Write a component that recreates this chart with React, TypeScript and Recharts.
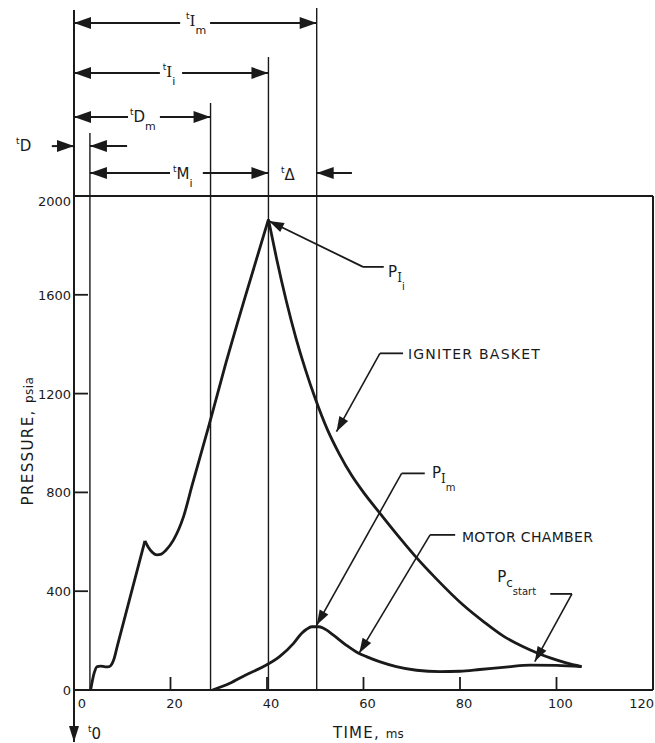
import { LineChart, Line, XAxis, YAxis, ReferenceLine, ReferenceDot } from 'recharts'

// axis ticks
const xTicks = [0, 20, 40, 60, 80, 100, 120]
const yTicks = [0, 400, 800, 1200, 1600, 2000]

// igniter basket pressure (psia vs ms), split at the two sharp peaks
const ignStartT = [3.45, 4.2, 4.8, 5.5, 6.5, 7.3, 8.2, 9, 11.5, 14.7]
const ignStartP = [0, 70, 95, 97, 94, 95, 120, 180, 366, 604]
const ignRiseT = [14.7, 15.4, 16.3, 17.2, 18.1, 19, 20.6, 22.7, 24.5, 28, 31.5, 35.6, 40.3]
const ignRiseP = [604, 578, 556, 547, 550, 565, 607, 702, 830, 1073, 1325, 1600, 1905]
const ignFallT = [40.3, 42, 44, 46, 48, 50, 52.5, 55, 57.5, 60, 63.3, 67, 70.8, 75, 80.6, 85, 89, 93, 96, 99, 102, 105.2]
const ignFallP = [1905, 1745, 1575, 1425, 1295, 1180, 1055, 955, 870, 800, 718, 628, 540, 452, 345, 275, 218, 176, 150, 128, 110, 95]

// motor chamber pressure
const motorT = [28.7, 32.3, 35.6, 39.2, 42.6, 45.5, 47.2, 48.2, 49.3, 50.7, 51.7, 53.7, 56.4, 58.8, 60.6, 63.3, 66.8, 71, 75.8, 80, 84.1, 90, 94.5, 100, 105.2]
const motorP = [0, 27, 61, 94, 135, 189, 230, 246, 256, 256, 250, 223, 182, 151, 135, 115, 95, 80, 74, 76, 83, 94, 101, 100, 95]

// event times: t0, end of delay tD, motor start tDm, igniter peak tIi, motor peak tIm
const [T0, TD, TDM, TII, TIM] = [0, 3.3, 28.3, 40.3, 50.3]

const rows = (t: number[], p: number[]) => t.map((x, i) => ({ t: x, p: p[i] }))
const ignStart = rows(ignStartT, ignStartP)
const ignRise = rows(ignRiseT, ignRiseP)
const ignFall = rows(ignFallT, ignFallP)
const motor = rows(motorT, motorP)

const INK = '#1a1a1a'
const FONT = '"DejaVu Sans", Verdana, sans-serif'
const SERIF = '"DejaVu Serif", serif'

type Head = 'start' | 'end' | 'none'

// line with filled arrow heads, used as ReferenceLine shape
const arrow = (head: Head, width = 2, len = 17, half = 6) => (p: any) => {
  const { x1, y1, x2, y2 } = p
  const a = Math.atan2(y2 - y1, x2 - x1)
  const tri = (x: number, y: number, ang: number) => {
    const bx = x - len * Math.cos(ang), by = y - len * Math.sin(ang)
    const ox = -Math.sin(ang) * half, oy = Math.cos(ang) * half
    return `${x},${y} ${bx + ox},${by + oy} ${bx - ox},${by - oy}`
  }
  return (
    <g>
      <line x1={x1} y1={y1} x2={x2} y2={y2} stroke={INK} strokeWidth={width} />
      {head === 'end' && <polygon points={tri(x2, y2, a)} fill={INK} />}
      {head === 'start' && <polygon points={tri(x1, y1, a + Math.PI)} fill={INK} />}
    </g>
  )
}

const TimeLabel = ({ cx, cy, name, sub }: any) => (
  <text x={cx} y={cy} fill={INK} fontFamily={FONT} fontSize={15}>
    <tspan fontSize={9} dy={-7}>t</tspan>
    <tspan dy={7} fontFamily={name === 'I' ? SERIF : FONT}>{name}</tspan>
    {sub ? <tspan fontSize={11} dy={8}>{sub}</tspan> : null}
  </text>
)

const PLabel = ({ cx, cy, sub, subsub }: any) => (
  <text x={cx} y={cy} fill={INK} fontFamily={FONT} fontSize={15}>
    P
    <tspan fontSize={12} dy={5} fontFamily={sub === 'I' ? SERIF : FONT}>{sub}</tspan>
    <tspan fontSize={10} dy={8}>{subsub}</tspan>
  </text>
)

const Caption = ({ cx, cy, text, len }: any) => (
  <text x={cx} y={cy} fill={INK} fontFamily={FONT} fontSize={14} textLength={len} lengthAdjust="spacing">{text}</text>
)

const BottomTick = (p: any) => {
  const v = p.payload.value
  const last = v === 120
  return (
    <g>
      {v > 0 && !last && <line x1={p.x} x2={p.x} y1={p.y} y2={p.y - 13} stroke={INK} strokeWidth={1.8} />}
      <text x={last ? 654 : p.x + (v === 0 ? 8 : 4)} y={p.y + 18} textAnchor={last ? 'end' : 'middle'}
        fill={INK} fontFamily={FONT} fontSize={13}>{v}</text>
    </g>
  )
}
const TopTick = (p: any) => {
  const v = p.payload.value
  return v > 0 && v < 120 ? <line x1={p.x} x2={p.x} y1={p.y} y2={p.y + 12} stroke={INK} strokeWidth={1.8} /> : <g />
}
const LeftTick = (p: any) => {
  const v = p.payload.value
  return (
    <g>
      {v > 0 && v < 2000 && <line x1={p.x} x2={p.x + 14} y1={p.y} y2={p.y} stroke={INK} strokeWidth={1.8} />}
      <text x={p.x - 3} y={p.y + (v === 2000 ? 10 : 5)} textAnchor="end" fill={INK} fontFamily={FONT} fontSize={13}>{v}</text>
    </g>
  )
}
const RightTick = (p: any) => {
  const v = p.payload.value
  return v > 0 && v < 2000 ? <line x1={p.x - 12} x2={p.x} y1={p.y} y2={p.y} stroke={INK} strokeWidth={1.8} /> : <g />
}

const curve = { dataKey: 'p', stroke: INK, strokeWidth: 2.8, dot: false, isAnimationActive: false, strokeLinejoin: 'round' as const }
const axisLine = { stroke: INK, strokeWidth: 2 }

export default function App() {
  const seg = (x1: number, y1: number, x2: number, y2: number, head: Head, w = 2, len = 17, half = 6) => (
    <ReferenceLine segment={[{ x: x1, y: y1 }, { x: x2, y: y2 }]} ifOverflow="visible" shape={arrow(head, w, len, half)} />
  )
  const at = (x: number, y: number, shape: (p: any) => any) => (
    <ReferenceDot x={x} y={y} r={0} ifOverflow="visible" shape={shape} />
  )
  return (
    <div style={{ position: 'absolute', left: 0, top: 0, width: 655, height: 743, background: '#fff' }}>
      <LineChart width={655} height={743} margin={{ top: 195, right: 0, bottom: 23, left: 0 }}>
        <XAxis dataKey="t" type="number" domain={[0, 120]} ticks={xTicks} interval={0} height={30}
          tickSize={0} tickMargin={0} tickLine={false} axisLine={axisLine} tick={BottomTick} />
        <XAxis xAxisId="top" orientation="top" type="number" domain={[0, 120]} ticks={xTicks} interval={0} height={1}
          tickSize={0} tickMargin={0} tickLine={false} axisLine={axisLine} tick={TopTick} />
        <YAxis type="number" domain={[0, 2000]} ticks={yTicks} interval={0} width={74}
          tickSize={0} tickMargin={0} tickLine={false} axisLine={axisLine} tick={LeftTick} />
        <YAxis yAxisId="right" orientation="right" type="number" domain={[0, 2000]} ticks={yTicks} interval={0} width={2}
          tickSize={0} tickMargin={0} tickLine={false} axisLine={axisLine} tick={RightTick} />

        {/* event markers */}
        {seg(T0, 2753, T0, -211, 'end', 2, 16, 5)}
        {seg(TD, 2255, TD, 0, 'none', 1.4)}
        {seg(TDM, 2377, TDM, 0, 'none', 1.4)}
        {seg(TII, 2563, TII, 0, 'none', 1.4)}
        {seg(TIM, 2761, TIM, 0, 'none', 1.4)}

        {/* dimension arrows */}
        {seg(T0, 2700, 22, 2700, 'start')}
        {seg(28.2, 2700, TIM, 2700, 'end')}
        {seg(T0, 2498, 17.8, 2498, 'start')}
        {seg(22.4, 2498, TII, 2498, 'end')}
        {seg(T0, 2320, 11.2, 2320, 'start')}
        {seg(17.8, 2320, TDM, 2320, 'end')}
        {seg(-4.6, 2202, T0, 2202, 'end')}
        {seg(11, 2202, TD, 2202, 'end')}
        {seg(TD, 2093, 19.9, 2093, 'start')}
        {seg(26.7, 2093, TII, 2093, 'end')}
        {seg(57.6, 2093, TIM, 2093, 'end')}

        {at(23.2, 2688, (p) => <TimeLabel {...p} name="I" sub="m" />)}
        {at(18.4, 2482, (p) => <TimeLabel {...p} name="I" sub="i" />)}
        {at(11.6, 2300, (p) => <TimeLabel {...p} name="D" sub="m" />)}
        {at(-12, 2182, (p) => <TimeLabel {...p} name="D" />)}
        {at(20.5, 2069, (p) => <TimeLabel {...p} name="M" sub="i" />)}
        {at(42.9, 2065, (p) => <TimeLabel {...p} name="Δ" />)}
        {at(2.9, -198, (p) => <TimeLabel {...p} name="0" />)}

        {/* curves */}
        <Line data={ignStart} type="monotone" {...curve} />
        <Line data={ignRise} type="monotone" {...curve} />
        <Line data={ignFall} type="monotone" {...curve} />
        <Line data={motor} type="monotone" {...curve} />

        {/* leaders */}
        {seg(64.2, 1713, 59.9, 1713, 'none', 1.8)}
        {seg(59.9, 1713, 40.4, 1899, 'end', 1.8, 15, 5)}
        {seg(68.2, 1363, 63.4, 1363, 'none', 1.8)}
        {seg(63.4, 1363, 54.4, 1046, 'end', 1.6, 15, 5)}
        {seg(72.7, 877, 67.9, 877, 'none', 1.8)}
        {seg(67.9, 877, 50.3, 263, 'end', 1.6, 15, 5)}
        {seg(79, 628, 73.8, 628, 'none', 1.8)}
        {seg(73.8, 628, 59.1, 149, 'end', 1.6, 15, 5)}
        {seg(98.7, 389, 103.2, 389, 'none', 1.8)}
        {seg(103.2, 389, 95.5, 115, 'end', 1.6, 15, 5)}

        {at(65.1, 1672, (p) => <PLabel {...p} sub="I" subsub="i" />)}
        {at(74.2, 858, (p) => <PLabel {...p} sub="I" subsub="m" />)}
        {at(87.7, 437, (p) => <PLabel {...p} sub="c" subsub="start" />)}
        {at(69.2, 1340, (p) => <Caption {...p} text="IGNITER BASKET" len={132} />)}
        {at(80.4, 600, (p) => <Caption {...p} text="MOTOR CHAMBER" len={131} />)}

        {/* axis titles */}
        {at(53.7, -194, (p) => (
          <text x={p.cx} y={p.cy} fill={INK} fontFamily={FONT} fontSize={15} letterSpacing={1.2}>
            TIME, <tspan fontSize={12} letterSpacing={0}>ms</tspan>
          </text>
        ))}
        {at(-8.4, 1008, (p) => (
          <text x={p.cx} y={p.cy} transform={`rotate(-90 ${p.cx} ${p.cy})`} textAnchor="middle" fill={INK}
            fontFamily={FONT} fontSize={15} letterSpacing={1.4}>
            PRESSURE, <tspan fontSize={12} letterSpacing={0.5}>psia</tspan>
          </text>
        ))}
      </LineChart>
    </div>
  )
}
